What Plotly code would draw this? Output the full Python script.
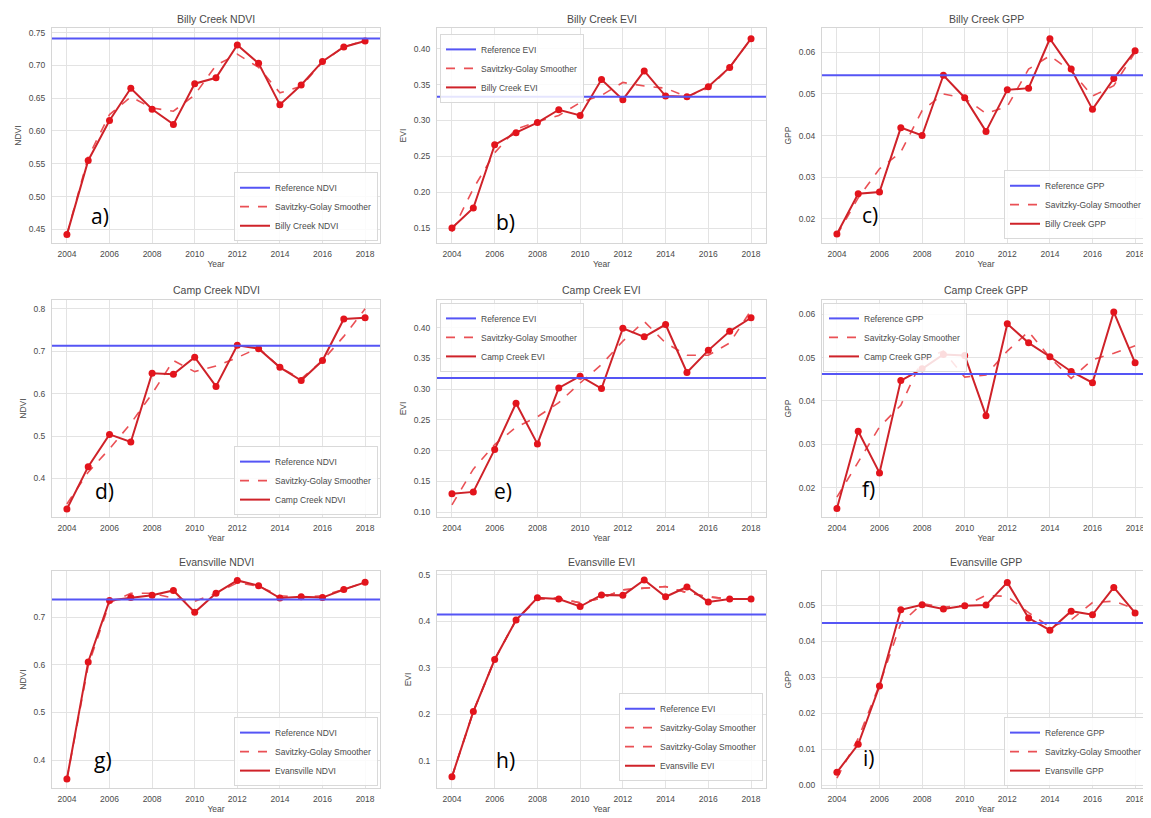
import plotly.graph_objects as go

years = list(range(2004, 2019))

# ---- Billy Creek ----
billy_ndvi = [0.442, 0.555, 0.616, 0.665, 0.633, 0.610, 0.672, 0.681, 0.731, 0.703, 0.640, 0.670, 0.706, 0.728, 0.737]
billy_ndvi_sg = [0.442, 0.560, 0.625, 0.652, 0.635, 0.630, 0.655, 0.700, 0.717, 0.697, 0.658, 0.668, 0.705, 0.728, 0.738]
billy_ndvi_ref = 0.741

billy_evi = [0.150, 0.178, 0.266, 0.283, 0.297, 0.315, 0.307, 0.357, 0.329, 0.369, 0.334, 0.333, 0.347, 0.374, 0.414]
billy_evi_sg = [0.145, 0.205, 0.255, 0.288, 0.298, 0.307, 0.325, 0.335, 0.353, 0.348, 0.345, 0.333, 0.345, 0.374, 0.414]
billy_evi_ref = 0.333

billy_gpp = [0.0163, 0.0260, 0.0264, 0.0419, 0.0400, 0.0545, 0.0491, 0.0410, 0.0510, 0.0514, 0.0633, 0.0560, 0.0463, 0.0537, 0.0604]
billy_gpp_sg = [0.0160, 0.0250, 0.0320, 0.0360, 0.0460, 0.0500, 0.0490, 0.0453, 0.0470, 0.0560, 0.0592, 0.0555, 0.0495, 0.0520, 0.0600]
billy_gpp_ref = 0.0545

# ---- Camp Creek ----
camp_ndvi = [0.328, 0.428, 0.504, 0.486, 0.648, 0.646, 0.686, 0.617, 0.714, 0.706, 0.662, 0.631, 0.678, 0.776, 0.779]
camp_ndvi_sg = [0.340, 0.415, 0.470, 0.530, 0.600, 0.678, 0.652, 0.665, 0.685, 0.708, 0.662, 0.635, 0.678, 0.735, 0.800]
camp_ndvi_ref = 0.713

camp_evi = [0.130, 0.133, 0.202, 0.277, 0.211, 0.302, 0.321, 0.301, 0.399, 0.385, 0.405, 0.327, 0.363, 0.394, 0.416]
camp_evi_sg = [0.112, 0.170, 0.210, 0.238, 0.255, 0.278, 0.310, 0.340, 0.378, 0.410, 0.375, 0.355, 0.355, 0.375, 0.428]
camp_evi_ref = 0.318

camp_gpp = [0.0152, 0.0330, 0.0234, 0.0447, 0.0474, 0.0507, 0.0505, 0.0366, 0.0578, 0.0534, 0.0502, 0.0468, 0.0442, 0.0605, 0.0488]
camp_gpp_sg = [0.0178, 0.0260, 0.0340, 0.0390, 0.0495, 0.0515, 0.0455, 0.0460, 0.0515, 0.0560, 0.0500, 0.0452, 0.0495, 0.0510, 0.0527]
camp_gpp_ref = 0.0462

# ---- Evansville ----
evans_ndvi = [0.360, 0.606, 0.735, 0.741, 0.746, 0.756, 0.710, 0.750, 0.777, 0.766, 0.740, 0.743, 0.741, 0.758, 0.773]
evans_ndvi_sg = [0.360, 0.598, 0.730, 0.750, 0.750, 0.740, 0.733, 0.750, 0.772, 0.765, 0.745, 0.742, 0.745, 0.758, 0.773]
evans_ndvi_ref = 0.737

evans_evi = [0.066, 0.206, 0.318, 0.403, 0.451, 0.448, 0.432, 0.457, 0.456, 0.489, 0.453, 0.474, 0.442, 0.448, 0.448]
evans_evi_sg = [0.066, 0.206, 0.318, 0.403, 0.448, 0.450, 0.440, 0.450, 0.468, 0.472, 0.475, 0.462, 0.453, 0.448, 0.448]
evans_evi_ref = 0.415

evans_gpp = [0.0036, 0.0114, 0.0276, 0.0488, 0.0502, 0.0490, 0.0499, 0.0501, 0.0564, 0.0465, 0.0431, 0.0484, 0.0474, 0.0550, 0.0479]
evans_gpp_sg = [0.0020, 0.0130, 0.0280, 0.0450, 0.0505, 0.0495, 0.0500, 0.0528, 0.0525, 0.0480, 0.0440, 0.0460, 0.0508, 0.0512, 0.0490]
evans_gpp_ref = 0.0451

x_ticks = [2004, 2006, 2008, 2010, 2012, 2014, 2016, 2018]

panels = [
    ("Billy Creek NDVI", "NDVI", "Billy Creek NDVI", billy_ndvi, [billy_ndvi_sg], billy_ndvi_ref, "a)"),
    ("Billy Creek EVI", "EVI", "Billy Creek EVI", billy_evi, [billy_evi_sg], billy_evi_ref, "b)"),
    ("Billy Creek GPP", "GPP", "Billy Creek GPP", billy_gpp, [billy_gpp_sg], billy_gpp_ref, "c)"),
    ("Camp Creek NDVI", "NDVI", "Camp Creek NDVI", camp_ndvi, [camp_ndvi_sg], camp_ndvi_ref, "d)"),
    ("Camp Creek EVI", "EVI", "Camp Creek EVI", camp_evi, [camp_evi_sg], camp_evi_ref, "e)"),
    ("Camp Creek GPP", "GPP", "Camp Creek GPP", camp_gpp, [camp_gpp_sg], camp_gpp_ref, "f)"),
    ("Evansville NDVI", "NDVI", "Evansville NDVI", evans_ndvi, [evans_ndvi_sg], evans_ndvi_ref, "g)"),
    ("Evansville EVI", "EVI", "Evansville EVI", evans_evi, [evans_evi_sg, evans_evi_sg], evans_evi_ref, "h)"),
    ("Evansville GPP", "GPP", "Evansville GPP", evans_gpp, [evans_gpp_sg], evans_gpp_ref, "i)"),
]

# ---- layout / style (positions in pixels of the 1151x818 page) ----
OFF = 8  # default page body margin
W, H = 1151 - OFF, 818 - OFF
col_px = [(52, 380), (437, 766), (822, 1150)]
row_px = [(27, 243), (300, 518), (572, 790)]
title_px = [18, 290, 563]
yranges = [[0.429, 0.757], [0.129, 0.429], [0.0141, 0.0659],
           [0.309, 0.821], [0.092, 0.445], [0.0132, 0.0633],
           [0.341, 0.797], [0.0415, 0.5086], [-0.0008, 0.0596]]
dticks = [0.05, 0.05, 0.01, 0.1, 0.05, 0.01, 0.1, 0.1, 0.01]
tformats = [".2f", ".2f", ".2f", ".1f", ".2f", ".2f", ".1f", ".1f", ".2f"]
tag_pos = [(0.146, 0.125), (0.207, 0.10), (0.146, 0.13),
           (0.16, 0.12), (0.20, 0.12), (0.143, 0.13),
           (0.155, 0.13), (0.207, 0.13), (0.143, 0.14)]
legend_pos = [(378, 241, "right", "bottom"), (440, 33, "left", "top"), (1148, 239, "right", "bottom"),
              (378, 516, "right", "bottom"), (440, 303, "left", "top"), (823, 303, "left", "top"),
              (378, 788, "right", "bottom"), (763, 783, "right", "bottom"), (1148, 788, "right", "bottom")]


def px_x(v):
    return (v - OFF) / W


def px_y(v):
    return 1 - (v - OFF) / H


RED_MARK = "#e3141c"
RED_LINE = "#cf2229"
RED_SG = "#ea5055"
BLUE = "#5555f5"
GRID = "#e3e3e3"
FRAME = "#d6d6d6"
TXT = "#4a4a4a"
FONT = "Liberation Sans, Arial, sans-serif"

fig = go.Figure()
layout = dict(
    width=W, height=H, margin=dict(l=0, r=0, t=0, b=0),
    paper_bgcolor="white", plot_bgcolor="white",
    font=dict(family=FONT, color=TXT, size=9),
    showlegend=True,
)
annotations = []
shapes = []

for i, (title, ylab, dname, data, sgs, ref, tag) in enumerate(panels):
    r, c = divmod(i, 3)
    n = "" if i == 0 else str(i + 1)
    xa, ya = "x" + n, "y" + n
    lg = "legend" + n
    x0p, x1p = col_px[c]
    y0p, y1p = row_px[r]
    layout["xaxis" + n] = dict(
        domain=[px_x(x0p), min(1.0, px_x(x1p))], anchor=ya, range=[2003.3, 2018.7],
        tickvals=x_ticks, showgrid=True, gridcolor=GRID, gridwidth=1,
        showline=True, linecolor=FRAME, mirror=True, zeroline=False, ticks="",
        tickfont=dict(size=8.5, color=TXT), ticklabelstandoff=3,
        title=dict(text="Year", font=dict(size=8.5, color=TXT), standoff=2),
    )
    layout["yaxis" + n] = dict(
        domain=[px_y(y1p), px_y(y0p)], anchor=xa, range=yranges[i],
        dtick=dticks[i], tick0=0, tickformat=tformats[i],
        showgrid=True, gridcolor=GRID, gridwidth=1,
        showline=True, linecolor=FRAME, mirror=True, zeroline=False, ticks="",
        tickfont=dict(size=8.5, color=TXT), ticklabelstandoff=4,
        title=dict(text=ylab, font=dict(size=8.5, color=TXT), standoff=5),
    )
    lx, ly, lxa, lya = legend_pos[i]
    layout[lg] = dict(
        x=px_x(lx), y=px_y(ly), xanchor=lxa, yanchor=lya, xref="paper", yref="paper",
        bgcolor="rgba(255,255,255,0.85)", bordercolor="#d9d9d9", borderwidth=1,
        font=dict(size=8.5, color=TXT), tracegroupgap=0, itemwidth=30,
        traceorder="normal",
    )
    # reference line (spans full axis width)
    shapes.append(dict(
        type="line", xref=xa + " domain", yref=ya, x0=0, x1=1, y0=ref, y1=ref,
        line=dict(color=BLUE, width=2), layer="above",
        showlegend=True, name="Reference " + ylab, legend=lg, legendrank=1,
    ))
    for k, sg in enumerate(sgs):
        fig.add_trace(go.Scatter(
            x=years, y=sg, mode="lines", name="Savitzky-Golay Smoother",
            line=dict(color=RED_SG, width=1.6, dash="dash"),
            xaxis=xa, yaxis=ya, legend=lg, legendrank=2 + k,
        ))
    fig.add_trace(go.Scatter(
        x=years, y=data, mode="lines", name=dname,
        line=dict(color=RED_LINE, width=2),
        xaxis=xa, yaxis=ya, legend=lg, legendrank=10,
    ))
    fig.add_trace(go.Scatter(
        x=years, y=data, mode="markers", name=dname, showlegend=False,
        marker=dict(color=RED_MARK, size=7),
        xaxis=xa, yaxis=ya, legend=lg,
    ))
    annotations.append(dict(
        text=title, xref="paper", yref="paper",
        x=px_x((x0p + min(x1p, 1151)) / 2), y=px_y(title_px[r]),
        xanchor="center", yanchor="middle", showarrow=False,
        font=dict(size=10.5, color=TXT),
    ))
    tx, ty = tag_pos[i]
    annotations.append(dict(
        text=tag, xref=xa + " domain", yref=ya + " domain", x=tx, y=ty,
        xanchor="center", yanchor="middle", showarrow=False,
        font=dict(size=21, color="black", family="Open Sans, Lato, sans-serif"),
    ))

layout["annotations"] = annotations
layout["shapes"] = shapes
fig.update_layout(**layout)
fig.write_html("out.html")
